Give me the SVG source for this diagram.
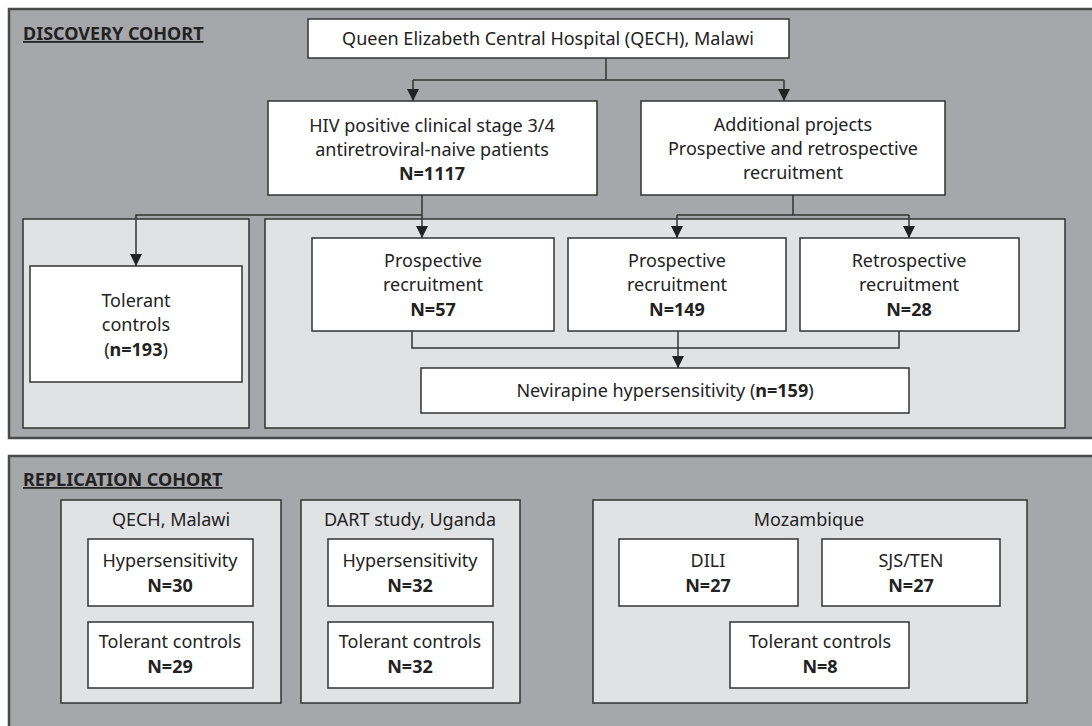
<svg xmlns="http://www.w3.org/2000/svg" width="1092" height="726" viewBox="0 0 1092 726">
<defs>
<style>
.panel{fill:#a6a7aa;stroke:#4a4a4c;stroke-width:2.5}
.sub{fill:#e1e2e4;stroke:#333;stroke-width:1.5}
.box{fill:#fff;stroke:#333;stroke-width:1.5}
text{font-family:"Noto Sans","Liberation Sans",sans-serif;font-size:18px;fill:#222;text-anchor:middle}
.b{font-weight:bold}
.title{font-weight:bold;text-anchor:start;text-decoration:underline}
.conn{fill:none;stroke:#333;stroke-width:1.5}
</style>
<marker id="arr" markerUnits="userSpaceOnUse" markerWidth="12" markerHeight="12" viewBox="0 0 10 10" refX="10" refY="5" orient="auto">
<path d="M0,0 L10,5 L0,10 z" fill="#222"/>
</marker>
</defs>
<rect width="1092" height="726" fill="#fff"/>

<g id="discovery-panel">
<rect class="panel" x="9" y="9" width="1100" height="429"/>
<text class="title" x="23" y="40">DISCOVERY COHORT</text>
</g>
<g id="tolerant-panel"><rect class="sub" x="23" y="219" width="226" height="209"/></g>
<g id="recruit-panel"><rect class="sub" x="265" y="219" width="800" height="209"/></g>

<g id="qech">
<rect class="box" x="308" y="19" width="481" height="39"/>
<text x="548" y="45">Queen Elizabeth Central Hospital (QECH), Malawi</text>
</g>
<g id="hiv">
<rect class="box" x="268" y="101" width="329" height="94"/>
<text x="432" y="132">HIV positive clinical stage 3/4</text>
<text x="432" y="156">antiretroviral-naive patients</text>
<text x="432" y="180" class="b">N=1117</text>
</g>
<g id="additional">
<rect class="box" x="641" y="101" width="304" height="94"/>
<text x="793" y="131">Additional projects</text>
<text x="793" y="155">Prospective and retrospective</text>
<text x="793" y="179">recruitment</text>
</g>
<g id="tolerant">
<rect class="box" x="30" y="266" width="212" height="116"/>
<text x="136" y="307">Tolerant</text>
<text x="136" y="331">controls</text>
<text x="136" y="356">(<tspan class="b">n=193</tspan>)</text>
</g>
<g id="prosp57">
<rect class="box" x="312" y="238" width="242" height="93"/>
<text x="433" y="267">Prospective</text>
<text x="433" y="291">recruitment</text>
<text x="433" y="316" class="b">N=57</text>
</g>
<g id="prosp149">
<rect class="box" x="568" y="238" width="218" height="93"/>
<text x="677" y="267">Prospective</text>
<text x="677" y="291">recruitment</text>
<text x="677" y="316" class="b">N=149</text>
</g>
<g id="retro28">
<rect class="box" x="800" y="238" width="219" height="93"/>
<text x="909" y="267">Retrospective</text>
<text x="909" y="291">recruitment</text>
<text x="909" y="316" class="b">N=28</text>
</g>
<g id="nevirapine">
<rect class="box" x="421" y="368" width="488" height="45"/>
<text x="665" y="397">Nevirapine hypersensitivity (<tspan class="b">n=159</tspan>)</text>
</g>

<g id="connectors">
<path class="conn" d="M606,58 V80"/>
<path class="conn" d="M413,80 H784"/>
<path class="conn" d="M413,80 V101" marker-end="url(#arr)"/>
<path class="conn" d="M784,80 V101" marker-end="url(#arr)"/>
<path class="conn" d="M422,195 V238" marker-end="url(#arr)"/>
<path class="conn" d="M422,215 H136 V266" marker-end="url(#arr)"/>
<path class="conn" d="M793,195 V215"/>
<path class="conn" d="M677,215 H909"/>
<path class="conn" d="M677,215 V238" marker-end="url(#arr)"/>
<path class="conn" d="M909,215 V238" marker-end="url(#arr)"/>
<path class="conn" d="M412,331 V348 H899 V331"/>
<path class="conn" d="M678,331 V368" marker-end="url(#arr)"/>
</g>

<g id="replication-panel">
<rect class="panel" x="9" y="456" width="1100" height="300"/>
<text class="title" x="23" y="486">REPLICATION COHORT</text>
</g>
<g id="qech-malawi">
<rect class="sub" x="61" y="500" width="220" height="203"/>
<text x="171" y="526">QECH, Malawi</text>
<rect class="box" x="88" y="539" width="165" height="67"/>
<text x="170" y="567">Hypersensitivity</text>
<text x="170" y="592" class="b">N=30</text>
<rect class="box" x="88" y="622" width="165" height="66"/>
<text x="170" y="648">Tolerant controls</text>
<text x="170" y="673" class="b">N=29</text>
</g>
<g id="dart-uganda">
<rect class="sub" x="301" y="500" width="219" height="203"/>
<text x="410" y="526">DART study, Uganda</text>
<rect class="box" x="328" y="539" width="165" height="67"/>
<text x="410" y="567">Hypersensitivity</text>
<text x="410" y="592" class="b">N=32</text>
<rect class="box" x="328" y="622" width="165" height="66"/>
<text x="410" y="648">Tolerant controls</text>
<text x="410" y="673" class="b">N=32</text>
</g>
<g id="mozambique">
<rect class="sub" x="593" y="500" width="434" height="203"/>
<text x="809" y="526">Mozambique</text>
<rect class="box" x="619" y="539" width="179" height="67"/>
<text x="708" y="567">DILI</text>
<text x="708" y="592" class="b">N=27</text>
<rect class="box" x="822" y="539" width="178" height="67"/>
<text x="911" y="567">SJS/TEN</text>
<text x="911" y="592" class="b">N=27</text>
<rect class="box" x="730" y="622" width="179" height="66"/>
<text x="820" y="648">Tolerant controls</text>
<text x="820" y="673" class="b">N=8</text>
</g>
</svg>
